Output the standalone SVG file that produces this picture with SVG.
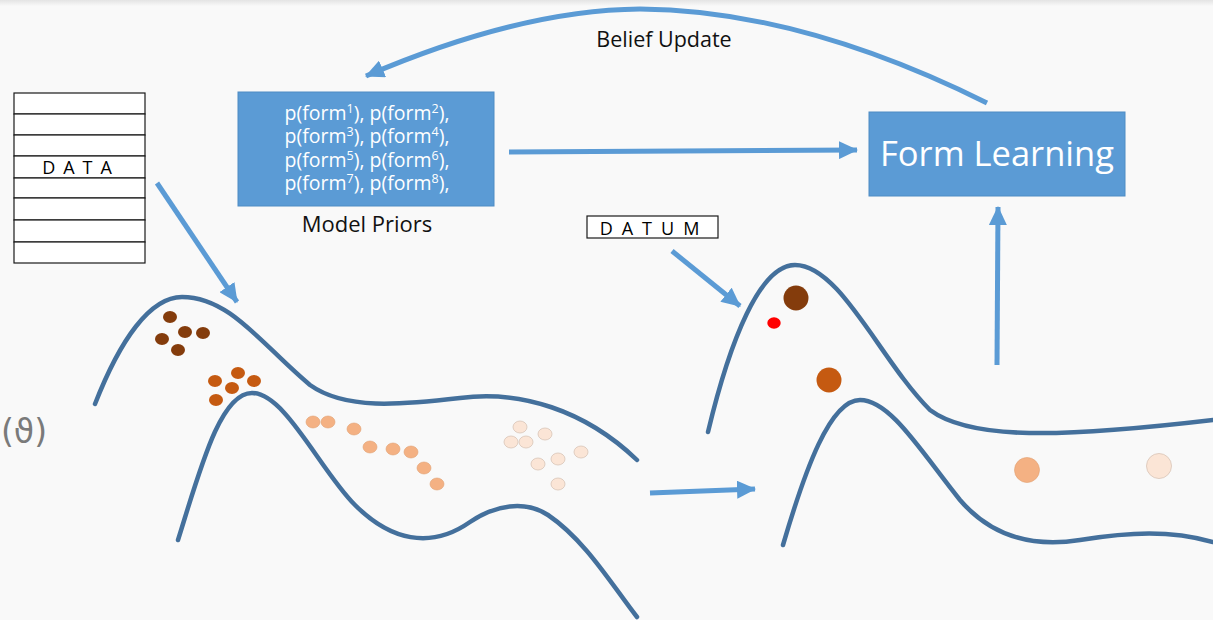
<svg xmlns="http://www.w3.org/2000/svg" width="1213" height="620" viewBox="0 0 1213 620">
  <defs>
    <linearGradient id="topShade" x1="0" y1="0" x2="0" y2="1">
      <stop offset="0" stop-color="#e4e4e4"/>
      <stop offset="1" stop-color="#f9f9f9"/>
    </linearGradient>
    <marker id="head" markerUnits="userSpaceOnUse" markerWidth="20" markerHeight="18" refX="18" refY="9" orient="auto">
      <path d="M0,0 L19,9 L0,18 z" fill="#5b9bd5"/>
    </marker>
    <style>
      .sans { font-family: "Open Sans", "Liberation Sans", sans-serif; }
      .box { fill: #5b9bd5; stroke: #4f8cc4; stroke-width: 1; }
      .cell { fill: #ffffff; stroke: #1a1a1a; stroke-width: 1.2; }
      .arrow { fill: none; stroke: #5b9bd5; stroke-width: 5; marker-end: url(#head); }
      .curve { fill: none; stroke: #44709c; stroke-width: 4.5; stroke-linecap: round; }
      .sup { font-size: 12.5px; }
      .c1 { fill: #843c0c; }
      .c2 { fill: #c55a11; }
      .c3 { fill: #f4b183; stroke: #e0a070; stroke-width: 0.6; }
      .c4 { fill: #fbe5d6; stroke: #d8c4b6; stroke-width: 0.8; }
    </style>
  </defs>

  <!-- page -->
  <rect x="0" y="0" width="1213" height="620" fill="#f9f9f9"/>
  <rect x="0" y="0" width="1213" height="6" fill="url(#topShade)"/>

  <!-- parameter label at the left margin -->
  <text x="1" y="443" font-family="DejaVu Sans, sans-serif" font-size="33" fill="#7a7a7a">(ϑ)</text>

  <!-- density curves -->
  <g id="curves-left">
    <path class="curve" d="M95 404 C120 340, 150 297, 182 297 C230 297, 262 345, 310 385 C345 410, 400 405, 460 398 C520 390, 585 410, 637 460"/>
    <path class="curve" d="M178 540 C200 470, 220 393, 252 393 C285 393, 320 470, 355 505 C390 540, 430 550, 470 522 C495 505, 525 500, 548 515 C585 540, 612 585, 637 617"/>
  </g>
  <g id="curves-right">
    <path class="curve" d="M708 432 C730 340, 760 265, 795 265 C840 265, 880 360, 930 410 C970 440, 1060 438, 1213 420"/>
    <path class="curve" d="M783 545 C805 470, 830 400, 860 400 C890 400, 920 450, 960 500 C990 535, 1030 548, 1080 540 C1130 532, 1170 530, 1213 542"/>
  </g>

  <!-- samples on the left landscape -->
  <g id="samples-left">
    <ellipse class="c1" cx="170" cy="317" rx="7" ry="6"/>
    <ellipse class="c1" cx="185" cy="332" rx="7" ry="6"/>
    <ellipse class="c1" cx="203" cy="333" rx="7" ry="6"/>
    <ellipse class="c1" cx="162" cy="339" rx="7" ry="6"/>
    <ellipse class="c1" cx="178" cy="350" rx="7" ry="6"/>

    <ellipse class="c2" cx="215" cy="381" rx="7" ry="6"/>
    <ellipse class="c2" cx="238" cy="373" rx="7" ry="6"/>
    <ellipse class="c2" cx="254" cy="381" rx="7" ry="6"/>
    <ellipse class="c2" cx="232" cy="388" rx="7" ry="6"/>
    <ellipse class="c2" cx="216" cy="400" rx="7" ry="6"/>

    <ellipse class="c3" cx="313" cy="422" rx="7" ry="6"/>
    <ellipse class="c3" cx="328" cy="422" rx="7" ry="6"/>
    <ellipse class="c3" cx="354" cy="429" rx="7" ry="6"/>
    <ellipse class="c3" cx="370" cy="447" rx="7" ry="6"/>
    <ellipse class="c3" cx="393" cy="449" rx="7" ry="6"/>
    <ellipse class="c3" cx="411" cy="452" rx="7" ry="6"/>
    <ellipse class="c3" cx="424" cy="468" rx="7" ry="6"/>
    <ellipse class="c3" cx="437" cy="484" rx="7" ry="6"/>

    <ellipse class="c4" cx="520" cy="427" rx="7" ry="6"/>
    <ellipse class="c4" cx="545" cy="434" rx="7" ry="6"/>
    <ellipse class="c4" cx="511" cy="442" rx="7" ry="6"/>
    <ellipse class="c4" cx="526" cy="442" rx="7" ry="6"/>
    <ellipse class="c4" cx="581" cy="452" rx="7" ry="6"/>
    <ellipse class="c4" cx="558" cy="459" rx="7" ry="6"/>
    <ellipse class="c4" cx="538" cy="464" rx="7" ry="6"/>
    <ellipse class="c4" cx="558" cy="484" rx="7" ry="6"/>
  </g>

  <!-- samples on the right landscape -->
  <g id="samples-right">
    <circle class="c1" cx="796" cy="298" r="12.5"/>
    <ellipse cx="774" cy="323" rx="6.7" ry="5.7" fill="#ff0000"/>
    <circle class="c2" cx="829" cy="380" r="12.5"/>
    <circle class="c3" cx="1027" cy="470" r="12.5"/>
    <circle class="c4" cx="1159" cy="466" r="12.5"/>
  </g>

  <!-- data table -->
  <g id="data">
    <rect class="cell" x="14" y="93" width="131" height="21"/>
    <rect class="cell" x="14" y="114" width="131" height="21"/>
    <rect class="cell" x="14" y="135" width="131" height="21"/>
    <rect class="cell" x="14" y="156" width="131" height="22"/>
    <rect class="cell" x="14" y="178" width="131" height="20"/>
    <rect class="cell" x="14" y="198" width="131" height="22"/>
    <rect class="cell" x="14" y="220" width="131" height="22"/>
    <rect class="cell" x="14" y="242" width="131" height="21"/>
    <text class="sans" x="81" y="174" text-anchor="middle" font-size="18" letter-spacing="8" fill="#000">DATA</text>
  </g>

  <!-- model priors: one text block, four lines with raised indices -->
  <g id="model-priors">
    <rect class="box" x="238" y="92" width="256" height="114"/>
    <text class="sans" font-size="19.5" fill="#ffffff" text-anchor="middle"><tspan x="367" y="120">p(form<tspan class="sup" dy="-7">1</tspan><tspan dy="7">), p(form</tspan><tspan class="sup" dy="-7">2</tspan><tspan dy="7">),</tspan></tspan><tspan x="367" y="143">p(form<tspan class="sup" dy="-7">3</tspan><tspan dy="7">), p(form</tspan><tspan class="sup" dy="-7">4</tspan><tspan dy="7">),</tspan></tspan><tspan x="367" y="167">p(form<tspan class="sup" dy="-7">5</tspan><tspan dy="7">), p(form</tspan><tspan class="sup" dy="-7">6</tspan><tspan dy="7">),</tspan></tspan><tspan x="367" y="190">p(form<tspan class="sup" dy="-7">7</tspan><tspan dy="7">), p(form</tspan><tspan class="sup" dy="-7">8</tspan><tspan dy="7">),</tspan></tspan></text>
    <text class="sans" x="367" y="232" text-anchor="middle" font-size="22" fill="#111">Model Priors</text>
  </g>

  <!-- form learning -->
  <g id="form-learning">
    <rect class="box" x="869" y="112" width="256" height="84"/>
    <text class="sans" x="997" y="166" text-anchor="middle" font-size="34.5" fill="#ffffff">Form Learning</text>
  </g>

  <!-- single datum -->
  <g id="datum">
    <rect class="cell" x="587" y="216" width="131" height="22"/>
    <text class="sans" x="654" y="235" text-anchor="middle" font-size="18" letter-spacing="9" fill="#000">DATUM</text>
  </g>

  <!-- connectors -->
  <g id="connectors">
    <path class="arrow" d="M509 152 L857 150"/>
    <path class="arrow" d="M987 103 Q800 10 640 9 Q520 10 366 76"/>
    <path class="arrow" d="M157 183 L237 302"/>
    <path class="arrow" d="M672 251 L740 306"/>
    <path class="arrow" d="M650 493 L755 489"/>
    <path class="arrow" d="M997 365 L998 207"/>
    <text class="sans" x="664" y="47" text-anchor="middle" font-size="21.5" fill="#111">Belief Update</text>
  </g>
</svg>
